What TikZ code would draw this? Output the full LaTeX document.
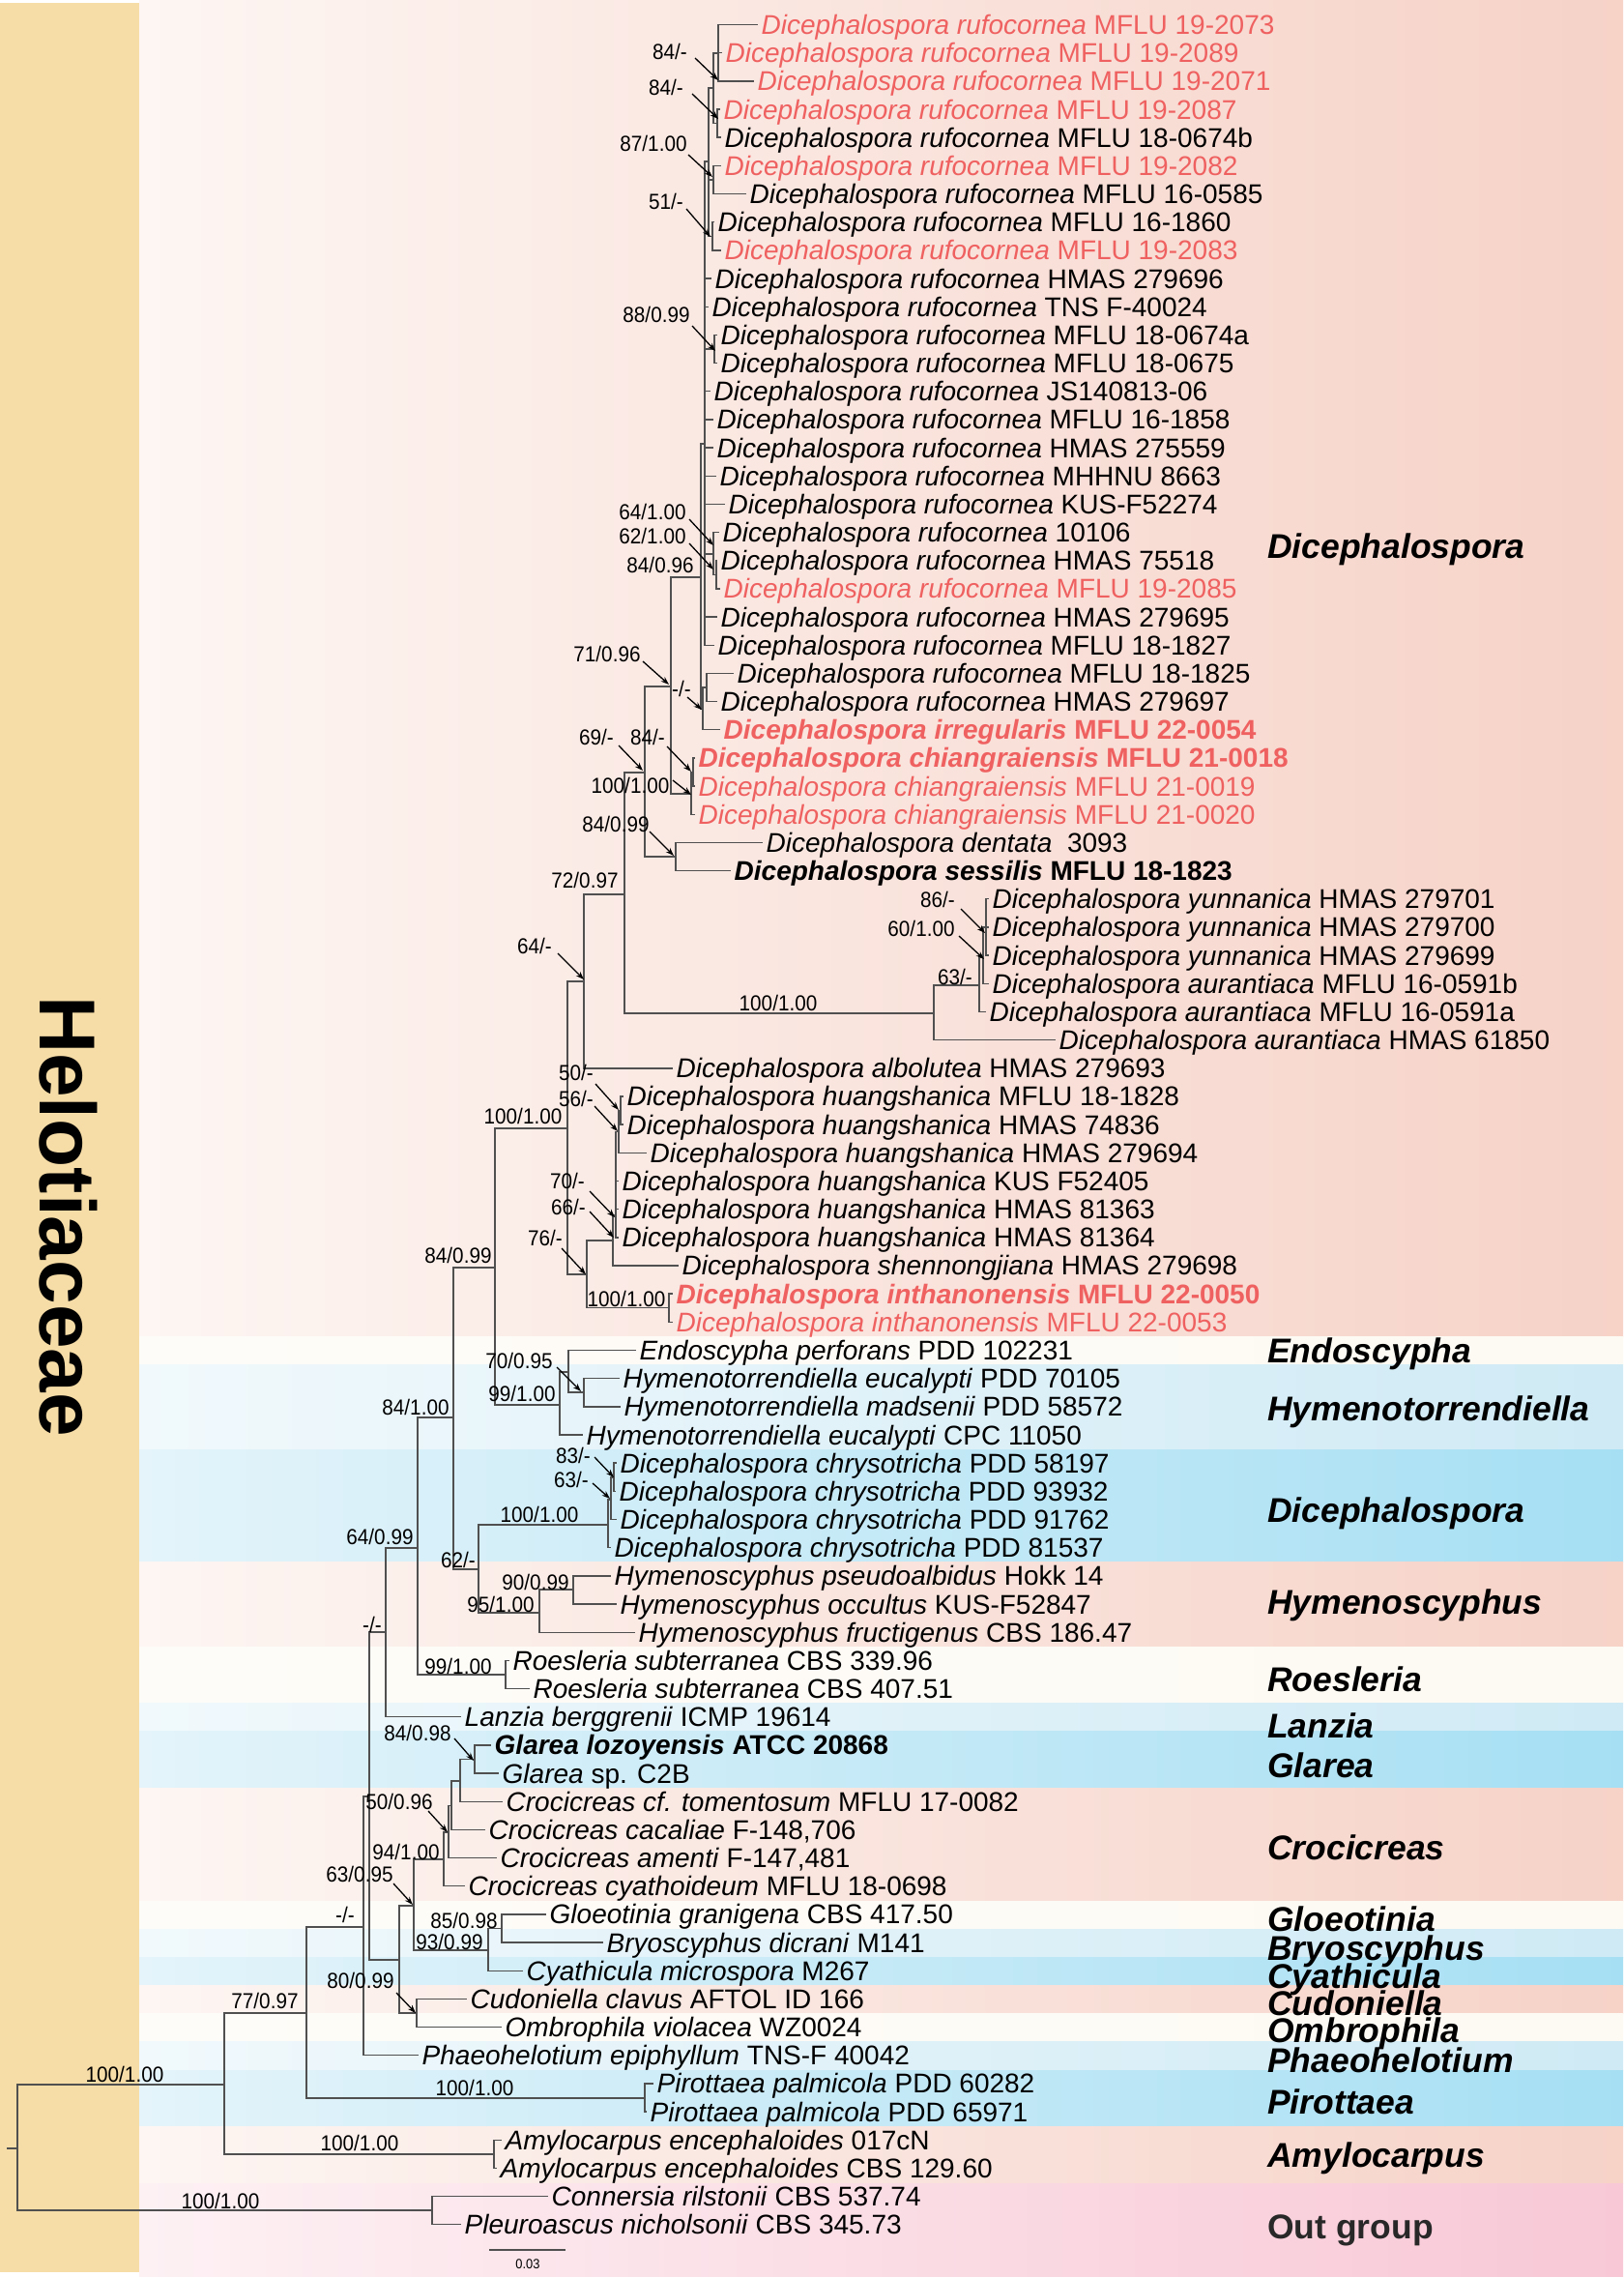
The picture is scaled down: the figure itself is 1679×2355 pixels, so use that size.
\documentclass[tikz,border=0pt]{standalone}
\usepackage{fontspec}
\setmainfont{Liberation Sans}
\newfontfamily\suppfont{Liberation Sans}[FakeStretch=0.92]
\usetikzlibrary{arrows.meta}
\definecolor{redt}{RGB}{239,97,97}
\definecolor{brcol}{RGB}{80,80,80}
\definecolor{yel}{RGB}{246,220,166}
\definecolor{salL}{RGB}{253,246,243}
\definecolor{salR}{RGB}{246,210,199}
\definecolor{whtL}{RGB}{254,252,248}
\definecolor{whtR}{RGB}{253,250,243}
\definecolor{lbL}{RGB}{241,249,252}
\definecolor{lbR}{RGB}{207,234,245}
\definecolor{bL}{RGB}{228,244,250}
\definecolor{bR}{RGB}{166,223,243}
\definecolor{pkL}{RGB}{253,241,244}
\definecolor{pkR}{RGB}{248,200,214}
\definecolor{ogcol}{RGB}{40,40,40}
\newcommand\tleaf[5][]{%
  \coordinate (#2) at (#3,{25.5+(#4-1)*29.17});
  \node[taxon,anchor=base west,#1] (#2l) at ([xshift=3.5pt,yshift=-10pt]#2) {#5};}
\newcommand\kids[2]{\foreach \kidname in {#2}{\draw[br] (#1) |- (\kidname);}}
\newcommand\band[3]{\shade[left color=#1L,right color=#1R] (144,#2) rectangle (1679,#3);}
\newcommand\supl[4]{\node[suplab] (#1) at (#2,#3) {#4};}
\newcommand\sarr[5]{\coordinate (#1a) at (#2,#3); \coordinate (#1b) at (#4,#5); \draw[arr] (#1a) -- (#1b);}
\newcommand\spR{\textit{Dicephalospora rufocornea}}
\newcommand\spH{\textit{Dicephalospora huangshanica}}
\newcommand\spY{\textit{Dicephalospora yunnanica}}
\newcommand\spA{\textit{Dicephalospora aurantiaca}}
\newcommand\spC{\textit{Dicephalospora chrysotricha}}
\newcommand\spCH{\textit{Dicephalospora chiangraiensis}}
\newcommand\spI{\textit{Dicephalospora inthanonensis}}
\tikzset{
  taxon/.style={font=\fontsize{28}{30}\selectfont, inner sep=0pt},
  suplab/.style={font=\suppfont\fontsize{22.5}{24}\selectfont, inner sep=0pt},
  clade/.style={font=\fontsize{35.5}{38}\selectfont\bfseries\itshape, inner sep=0pt, anchor=base west},
  br/.style={draw=brcol, line width=1.4pt},
  arr/.style={draw=black, line width=1.3pt, -{Stealth[length=8.5pt,width=6pt]}}
}
\begin{document}
\begin{tikzpicture}[x=1pt,y=-1pt]
\useasboundingbox (0,0) rectangle (1679,2355);
\fill[white] (0,0) rectangle (1679,2355);
% background bands
\band{sal}{0}{1382.5}
\band{wht}{1382}{1411.5}
\band{lb}{1411}{1499.5}
\band{b}{1499}{1615.5}
\band{sal}{1615}{1703.5}
\band{wht}{1703}{1761.5}
\band{lb}{1761}{1790.5}
\band{b}{1790}{1849.5}
\band{sal}{1849}{1966.5}
\band{wht}{1966}{1995.5}
\band{lb}{1995}{2024.5}
\band{b}{2024}{2053.5}
\band{sal}{2053}{2082.5}
\band{wht}{2082}{2111.5}
\band{lb}{2111}{2141.5}
\band{b}{2141}{2199.5}
\band{sal}{2199}{2258.5}
\band{pk}{2258}{2355}
\fill[yel] (0,3) rectangle (144,2350);
\node[font=\fontsize{82}{84}\selectfont\bfseries, rotate=-90, inner sep=0pt] (hel) at (71,1258) {Helotiaceae};
% clade labels
\node[clade] (c1) at (1311,577.7) {Dicephalospora};
\node[clade] (c2) at (1311,1409.7) {Endoscypha};
\node[clade] (c3) at (1311,1469.7) {Hymenotorrendiella};
\node[clade] (c4) at (1311,1574.7) {Dicephalospora};
\node[clade] (c5) at (1311,1669.7) {Hymenoscyphus};
\node[clade] (c6) at (1311,1749.7) {Roesleria};
\node[clade] (c7) at (1311,1797.7) {Lanzia};
\node[clade] (c8) at (1311,1838.7) {Glarea};
\node[clade] (c9) at (1311,1923.7) {Crocicreas};
\node[clade] (c10) at (1311,1997.7) {Gloeotinia};
\node[clade] (c11) at (1311,2027.7) {Bryoscyphus};
\node[clade] (c12) at (1311,2056.7) {Cyathicula};
\node[clade] (c13) at (1311,2084.7) {Cudoniella};
\node[clade] (c14) at (1311,2112.7) {Ombrophila};
\node[clade] (c15) at (1311,2143.7) {Phaeohelotium};
\node[clade] (c16) at (1311,2186.7) {Pirottaea};
\node[clade] (c17) at (1311,2241.7) {Amylocarpus};
\node[clade, font=\fontsize{35.5}{38}\selectfont\bfseries, text=ogcol] (c18) at (1311,2315.7) {Out group};
% leaves
\tleaf[text=redt]{t1}{784}{1}{\spR\ MFLU 19-2073}
\tleaf[text=redt]{t2}{747}{2}{\spR\ MFLU 19-2089}
\tleaf[text=redt]{t3}{780}{3}{\spR\ MFLU 19-2071}
\tleaf[text=redt]{t4}{745}{4}{\spR\ MFLU 19-2087}
\tleaf{t5}{746}{5}{\spR\ MFLU 18-0674b}
\tleaf[text=redt]{t6}{746}{6}{\spR\ MFLU 19-2082}
\tleaf{t7}{772}{7}{\spR\ MFLU 16-0585}
\tleaf{t8}{739}{8}{\spR\ MFLU 16-1860}
\tleaf[text=redt]{t9}{746}{9}{\spR\ MFLU 19-2083}
\tleaf{t10}{736}{10}{\spR\ HMAS 279696}
\tleaf{t11}{733}{11}{\spR\ TNS F-40024}
\tleaf{t12}{742}{12}{\spR\ MFLU 18-0674a}
\tleaf{t13}{742}{13}{\spR\ MFLU 18-0675}
\tleaf{t14}{735}{14}{\spR\ JS140813-06}
\tleaf{t15}{738}{15}{\spR\ MFLU 16-1858}
\tleaf{t16}{738}{16}{\spR\ HMAS 275559}
\tleaf{t17}{741}{17}{\spR\ MHHNU 8663}
\tleaf{t18}{750}{18}{\spR\ KUS-F52274}
\tleaf{t19}{744}{19}{\spR\ 10106}
\tleaf{t20}{742}{20}{\spR\ HMAS 75518}
\tleaf[text=redt]{t21}{745}{21}{\spR\ MFLU 19-2085}
\tleaf{t22}{742}{22}{\spR\ HMAS 279695}
\tleaf{t23}{739}{23}{\spR\ MFLU 18-1827}
\tleaf{t24}{759}{24}{\spR\ MFLU 18-1825}
\tleaf{t25}{742}{25}{\spR\ HMAS 279697}
\tleaf[text=redt]{t26}{745}{26}{\textbf{\textit{Dicephalospora irregularis} MFLU 22-0054}}
\tleaf[text=redt]{t27}{719}{27}{\textbf{\spCH\ MFLU 21-0018}}
\tleaf[text=redt]{t28}{719}{28}{\spCH\ MFLU 21-0019}
\tleaf[text=redt]{t29}{719}{29}{\spCH\ MFLU 21-0020}
\tleaf{t30}{789}{30}{\textit{Dicephalospora dentata}\ \ 3093}
\tleaf{t31}{756}{31}{\textbf{\textit{Dicephalospora sessilis} MFLU 18-1823}}
\tleaf{t32}{1023}{32}{\spY\ HMAS 279701}
\tleaf{t33}{1023}{33}{\spY\ HMAS 279700}
\tleaf{t34}{1023}{34}{\spY\ HMAS 279699}
\tleaf{t35}{1023}{35}{\spA\ MFLU 16-0591b}
\tleaf{t36}{1020}{36}{\spA\ MFLU 16-0591a}
\tleaf{t37}{1092}{37}{\spA\ HMAS 61850}
\tleaf{t38}{696}{38}{\textit{Dicephalospora albolutea} HMAS 279693}
\tleaf{t39}{645}{39}{\spH\ MFLU 18-1828}
\tleaf{t40}{645}{40}{\spH\ HMAS 74836}
\tleaf{t41}{669}{41}{\spH\ HMAS 279694}
\tleaf{t42}{640}{42}{\spH\ KUS F52405}
\tleaf{t43}{640}{43}{\spH\ HMAS 81363}
\tleaf{t44}{640}{44}{\spH\ HMAS 81364}
\tleaf{t45}{702}{45}{\textit{Dicephalospora shennongjiana} HMAS 279698}
\tleaf[text=redt]{t46}{696}{46}{\textbf{\spI\ MFLU 22-0050}}
\tleaf[text=redt]{t47}{696}{47}{\spI\ MFLU 22-0053}
\tleaf{t48}{658}{48}{\textit{Endoscypha perforans} PDD 102231}
\tleaf{t49}{641}{49}{\textit{Hymenotorrendiella eucalypti} PDD 70105}
\tleaf{t50}{642}{50}{\textit{Hymenotorrendiella madsenii} PDD 58572}
\tleaf{t51}{603}{51}{\textit{Hymenotorrendiella eucalypti} CPC 11050}
\tleaf{t52}{638}{52}{\spC\ PDD 58197}
\tleaf{t53}{637}{53}{\spC\ PDD 93932}
\tleaf{t54}{638}{54}{\spC\ PDD 91762}
\tleaf{t55}{632}{55}{\spC\ PDD 81537}
\tleaf{t56}{632}{56}{\textit{Hymenoscyphus pseudoalbidus} Hokk 14}
\tleaf{t57}{638}{57}{\textit{Hymenoscyphus occultus} KUS-F52847}
\tleaf{t58}{657}{58}{\textit{Hymenoscyphus fructigenus} CBS 186.47}
\tleaf{t59}{527}{59}{\textit{Roesleria subterranea} CBS 339.96}
\tleaf{t60}{548}{60}{\textit{Roesleria subterranea} CBS 407.51}
\tleaf{t61}{477}{61}{\textit{Lanzia berggrenii} ICMP 19614}
\tleaf{t62}{508}{62}{\textbf{\textit{Glarea lozoyensis} ATCC 20868}}
\tleaf{t63}{516}{63}{\textit{Glarea} sp. C2B}
\tleaf{t64}{520}{64}{\textit{Crocicreas cf. tomentosum} MFLU 17-0082}
\tleaf{t65}{502}{65}{\textit{Crocicreas cacaliae} F-148,706}
\tleaf{t66}{514}{66}{\textit{Crocicreas amenti} F-147,481}
\tleaf{t67}{481}{67}{\textit{Crocicreas cyathoideum} MFLU 18-0698}
\tleaf{t68}{565}{68}{\textit{Gloeotinia granigena} CBS 417.50}
\tleaf{t69}{624}{69}{\textit{Bryoscyphus dicrani} M141}
\tleaf{t70}{541}{70}{\textit{Cyathicula microspora} M267}
\tleaf{t71}{483}{71}{\textit{Cudoniella clavus} AFTOL ID 166}
\tleaf{t72}{519}{72}{\textit{Ombrophila violacea} WZ0024}
\tleaf{t73}{433}{73}{\textit{Phaeohelotium epiphyllum} TNS-F 40042}
\tleaf{t74}{676}{74}{\textit{Pirottaea palmicola} PDD 60282}
\tleaf{t75}{669}{75}{\textit{Pirottaea palmicola} PDD 65971}
\tleaf{t76}{519}{76}{\textit{Amylocarpus encephaloides} 017cN}
\tleaf{t77}{514}{77}{\textit{Amylocarpus encephaloides} CBS 129.60}
\tleaf{t78}{567}{78}{\textit{Connersia rilstonii} CBS 537.74}
\tleaf{t79}{477}{79}{\textit{Pleuroascus nicholsonii} CBS 345.73}
% internal nodes
\coordinate (nStub) at (7,2222);
\coordinate (nRoot) at (18,2222);
\coordinate (nIN) at (232,2156);
\coordinate (nOG) at (447,2286);
\coordinate (nAMY) at (511,2228);
\coordinate (nB) at (317,2082);
\coordinate (nPIR) at (667,2170);
\coordinate (nC) at (376,1993);
\coordinate (nH) at (382,1858);
\coordinate (nD) at (399,1688);
\coordinate (nE) at (413,2027);
\coordinate (nR) at (432,1601);
\coordinate (nS) at (469,1466);
\coordinate (nROE) at (523,1732);
\coordinate (nT) at (512,1311);
\coordinate (nU) at (495,1623);
\coordinate (nV) at (587,1167);
\coordinate (nW) at (579,1453);
\coordinate (nX) at (588,1419);
\coordinate (nY) at (604,1440);
\coordinate (nZ) at (629,1577);
\coordinate (nAB) at (632,1551);
\coordinate (nAC) at (635,1528);
\coordinate (nAA) at (558,1668);
\coordinate (nAD) at (593,1644);
\coordinate (nAE) at (604,1015);
\coordinate (nAF) at (607,1318);
\coordinate (nAG) at (646,925);
\coordinate (nAH) at (667,799);
\coordinate (nAI) at (966,1048);
\coordinate (nAJ) at (1013,1019);
\coordinate (nAK) at (1017,990);
\coordinate (nAL) at (1020,959);
\coordinate (nAM) at (694,710);
\coordinate (nAN) at (699,886);
\coordinate (nAO) at (725,597);
\coordinate (nRC) at (729,459);
\coordinate (nAP) at (727,733);
\coordinate (nPR) at (731,711);
\coordinate (nCH) at (715,821);
\coordinate (nCH2) at (717,798.5);
\coordinate (nTOP) at (733,167);
\coordinate (nN12) at (738,91);
\coordinate (nN1) at (743,55);
\coordinate (nN2) at (742,127.6);
\coordinate (nN3) at (738,186);
\coordinate (nN4) at (737,244.3);
\coordinate (nN5) at (739,361);
\coordinate (nN6) at (738,573);
\coordinate (nN7) at (741,594.3);
\coordinate (nHU4) at (634,1283);
\coordinate (nHU5) at (637,1257);
\coordinate (nHU2) at (640,1170.4);
\coordinate (nHU1) at (642,1148.5);
\coordinate (nINT) at (692,1352.7);
\coordinate (nI) at (428,1971);
\coordinate (nJ) at (431,2082);
\coordinate (nK) at (459,1923);
\coordinate (nL) at (505,2017);
\coordinate (nM) at (464,1895);
\coordinate (nN) at (467,1867.5);
\coordinate (nO) at (476,1842);
\coordinate (nP) at (491,1819.4);
\coordinate (nQ) at (519,1994.4);
% branches
\kids{nN1}{t1,t2,t3}
\kids{nN2}{t4,t5}
\kids{nN12}{nN1,nN2}
\kids{nN3}{t6,t7}
\kids{nN4}{t8,t9}
\kids{nTOP}{nN12,nN3,nN4}
\kids{nN5}{t12,t13}
\kids{nN7}{t20,t21}
\kids{nN6}{t19,nN7}
\kids{nRC}{nTOP,t10,t11,nN5,t14,t15,t16,t17,t18,nN6,t22,t23}
\kids{nPR}{t24,t25}
\kids{nAP}{nPR,t26}
\kids{nAO}{nRC,nAP}
\kids{nCH2}{t27,t28}
\kids{nCH}{nCH2,t29}
\kids{nAM}{nAO,nCH}
\kids{nAN}{t30,t31}
\kids{nAH}{nAM,nAN}
\kids{nAL}{t32,t33,t34}
\kids{nAK}{nAL,t35}
\kids{nAJ}{nAK,t36}
\kids{nAI}{nAJ,t37}
\kids{nAG}{nAH,nAI}
\kids{nAE}{nAG,t38}
\kids{nHU1}{t39,t40}
\kids{nHU2}{nHU1,t41}
\kids{nHU5}{nHU2,t42,t43,t44}
\kids{nHU4}{nHU5,t45}
\kids{nINT}{t46,t47}
\kids{nAF}{nHU4,nINT}
\kids{nV}{nAE,nAF}
\kids{nY}{t49,t50}
\kids{nX}{t48,nY}
\kids{nW}{nX,t51}
\kids{nT}{nV,nW}
\kids{nAC}{t52,t53}
\kids{nAB}{nAC,t54}
\kids{nZ}{nAB,t55}
\kids{nAD}{t56,t57}
\kids{nAA}{nAD,t58}
\kids{nU}{nZ,nAA}
\kids{nS}{nT,nU}
\kids{nROE}{t59,t60}
\kids{nR}{nS,nROE}
\kids{nD}{nR,t61}
\kids{nP}{t62,t63}
\kids{nO}{nP,t64}
\kids{nN}{nO,t65}
\kids{nM}{nN,t66}
\kids{nK}{nM,t67}
\kids{nQ}{t68,t69}
\kids{nL}{nQ,t70}
\kids{nI}{nK,nL}
\kids{nJ}{t71,t72}
\kids{nE}{nI,nJ}
\kids{nH}{nD,nE}
\kids{nC}{nH,t73}
\kids{nPIR}{t74,t75}
\kids{nB}{nC,nPIR}
\kids{nAMY}{t76,t77}
\kids{nIN}{nB,nAMY}
\kids{nOG}{t78,t79}
\kids{nRoot}{nIN,nOG}
\draw[br] (nStub) -- (nRoot);
% support values
\supl{s1}{693}{53}{84/-}          \sarr{s1}{719}{60}{743}{83}
\supl{s2}{689}{90}{84/-}          \sarr{s2}{716}{97}{743}{123}
\supl{s3}{676}{148}{87/1.00}      \sarr{s3}{712}{160}{737}{183}
\supl{s4}{689}{208}{51/-}         \sarr{s4}{710}{216}{735}{245}
\supl{s5}{679}{325}{88/0.99}      \sarr{s5}{716}{337}{740}{363}
\supl{s6}{675}{529}{64/1.00}      \sarr{s6}{713}{537}{738}{564}
\supl{s7}{675}{554}{62/1.00}      \sarr{s7}{713}{562}{738}{589}
\supl{s8}{683}{584}{84/0.96}
\supl{s9}{628}{676}{71/0.96}      \sarr{s9}{665}{684}{692}{708}
\supl{s10}{705}{712}{-/-}         \sarr{s10}{711}{721}{726}{734}
\supl{s11}{617}{762}{69/-}        \sarr{s11}{640}{771}{665}{797}
\supl{s12}{670}{762}{84/-}        \sarr{s12}{690}{772}{715}{798}
\supl{s13}{652}{812}{100/1.00}    \sarr{s13}{696}{807}{715}{822}
\supl{s14}{637}{852}{84/0.99}     \sarr{s14}{672}{860}{697}{885}
\supl{s15}{605}{910}{72/0.97}
\supl{s16}{553}{978}{64/-}        \sarr{s16}{577}{986}{604}{1013}
\supl{s17}{970}{930}{86/-}        \sarr{s17}{994}{940}{1019}{965}
\supl{s18}{953}{960}{60/1.00}     \sarr{s18}{992}{968}{1018}{992}
\supl{s19}{988}{1010}{63/-}
\supl{s20}{805}{1037}{100/1.00}
\supl{s21}{596}{1109}{50/-}       \sarr{s21}{616}{1121}{640}{1148}
\supl{s22}{596}{1136}{56/-}       \sarr{s22}{615}{1144}{639}{1170}
\supl{s23}{541}{1154}{100/1.00}
\supl{s24}{587}{1221}{70/-}       \sarr{s24}{610}{1232}{636}{1259}
\supl{s25}{588}{1248}{66/-}       \sarr{s25}{610}{1253}{635}{1280}
\supl{s26}{564}{1280}{76/-}       \sarr{s26}{581}{1291}{606}{1318}
\supl{s27}{474}{1298}{84/0.99}
\supl{s28}{648}{1343}{100/1.00}
\supl{s29}{537}{1407}{70/0.95}    \sarr{s29}{576}{1414}{601}{1439}
\supl{s30}{540}{1441}{99/1.00}
\supl{s31}{430}{1455}{84/1.00}
\supl{s32}{593}{1505}{83/-}       \sarr{s32}{615}{1507}{635}{1528}
\supl{s33}{591}{1530}{63/-}       \sarr{s33}{613}{1534}{631}{1550}
\supl{s34}{558}{1566}{100/1.00}
\supl{s35}{393}{1589}{64/0.99}
\supl{s36}{474}{1613}{62/-}
\supl{s37}{554}{1636}{90/0.99}
\supl{s38}{518}{1659}{95/1.00}
\supl{s39}{385}{1680}{-/-}
\supl{s40}{474}{1723}{99/1.00}
\supl{s41}{432}{1792}{84/0.98}    \sarr{s41}{470}{1798}{490}{1821}
\supl{s42}{413}{1863}{50/0.96}    \sarr{s42}{443}{1873}{463}{1895}
\supl{s43}{420}{1915}{94/1.00}
\supl{s44}{372}{1938}{63/0.95}    \sarr{s44}{407}{1948}{427}{1970}
\supl{s45}{357}{1980}{-/-}
\supl{s46}{480}{1986}{85/0.98}
\supl{s47}{465}{2008}{93/0.99}
\supl{s48}{373}{2048}{80/0.99}    \sarr{s48}{410}{2061}{430}{2082}
\supl{s49}{274}{2069}{77/0.97}
\supl{s50}{491}{2159}{100/1.00}
\supl{s51}{129}{2145}{100/1.00}
\supl{s52}{372}{2216}{100/1.00}
\supl{s53}{228}{2276}{100/1.00}
% scale bar
\coordinate (sb1) at (506,2327);
\coordinate (sb2) at (585,2327);
\draw[br] (sb1) -- (sb2);
\node[font=\suppfont\fontsize{14}{15}\selectfont, inner sep=0pt] (sbl) at (546,2342) {0.03};
\end{tikzpicture}
\end{document}
